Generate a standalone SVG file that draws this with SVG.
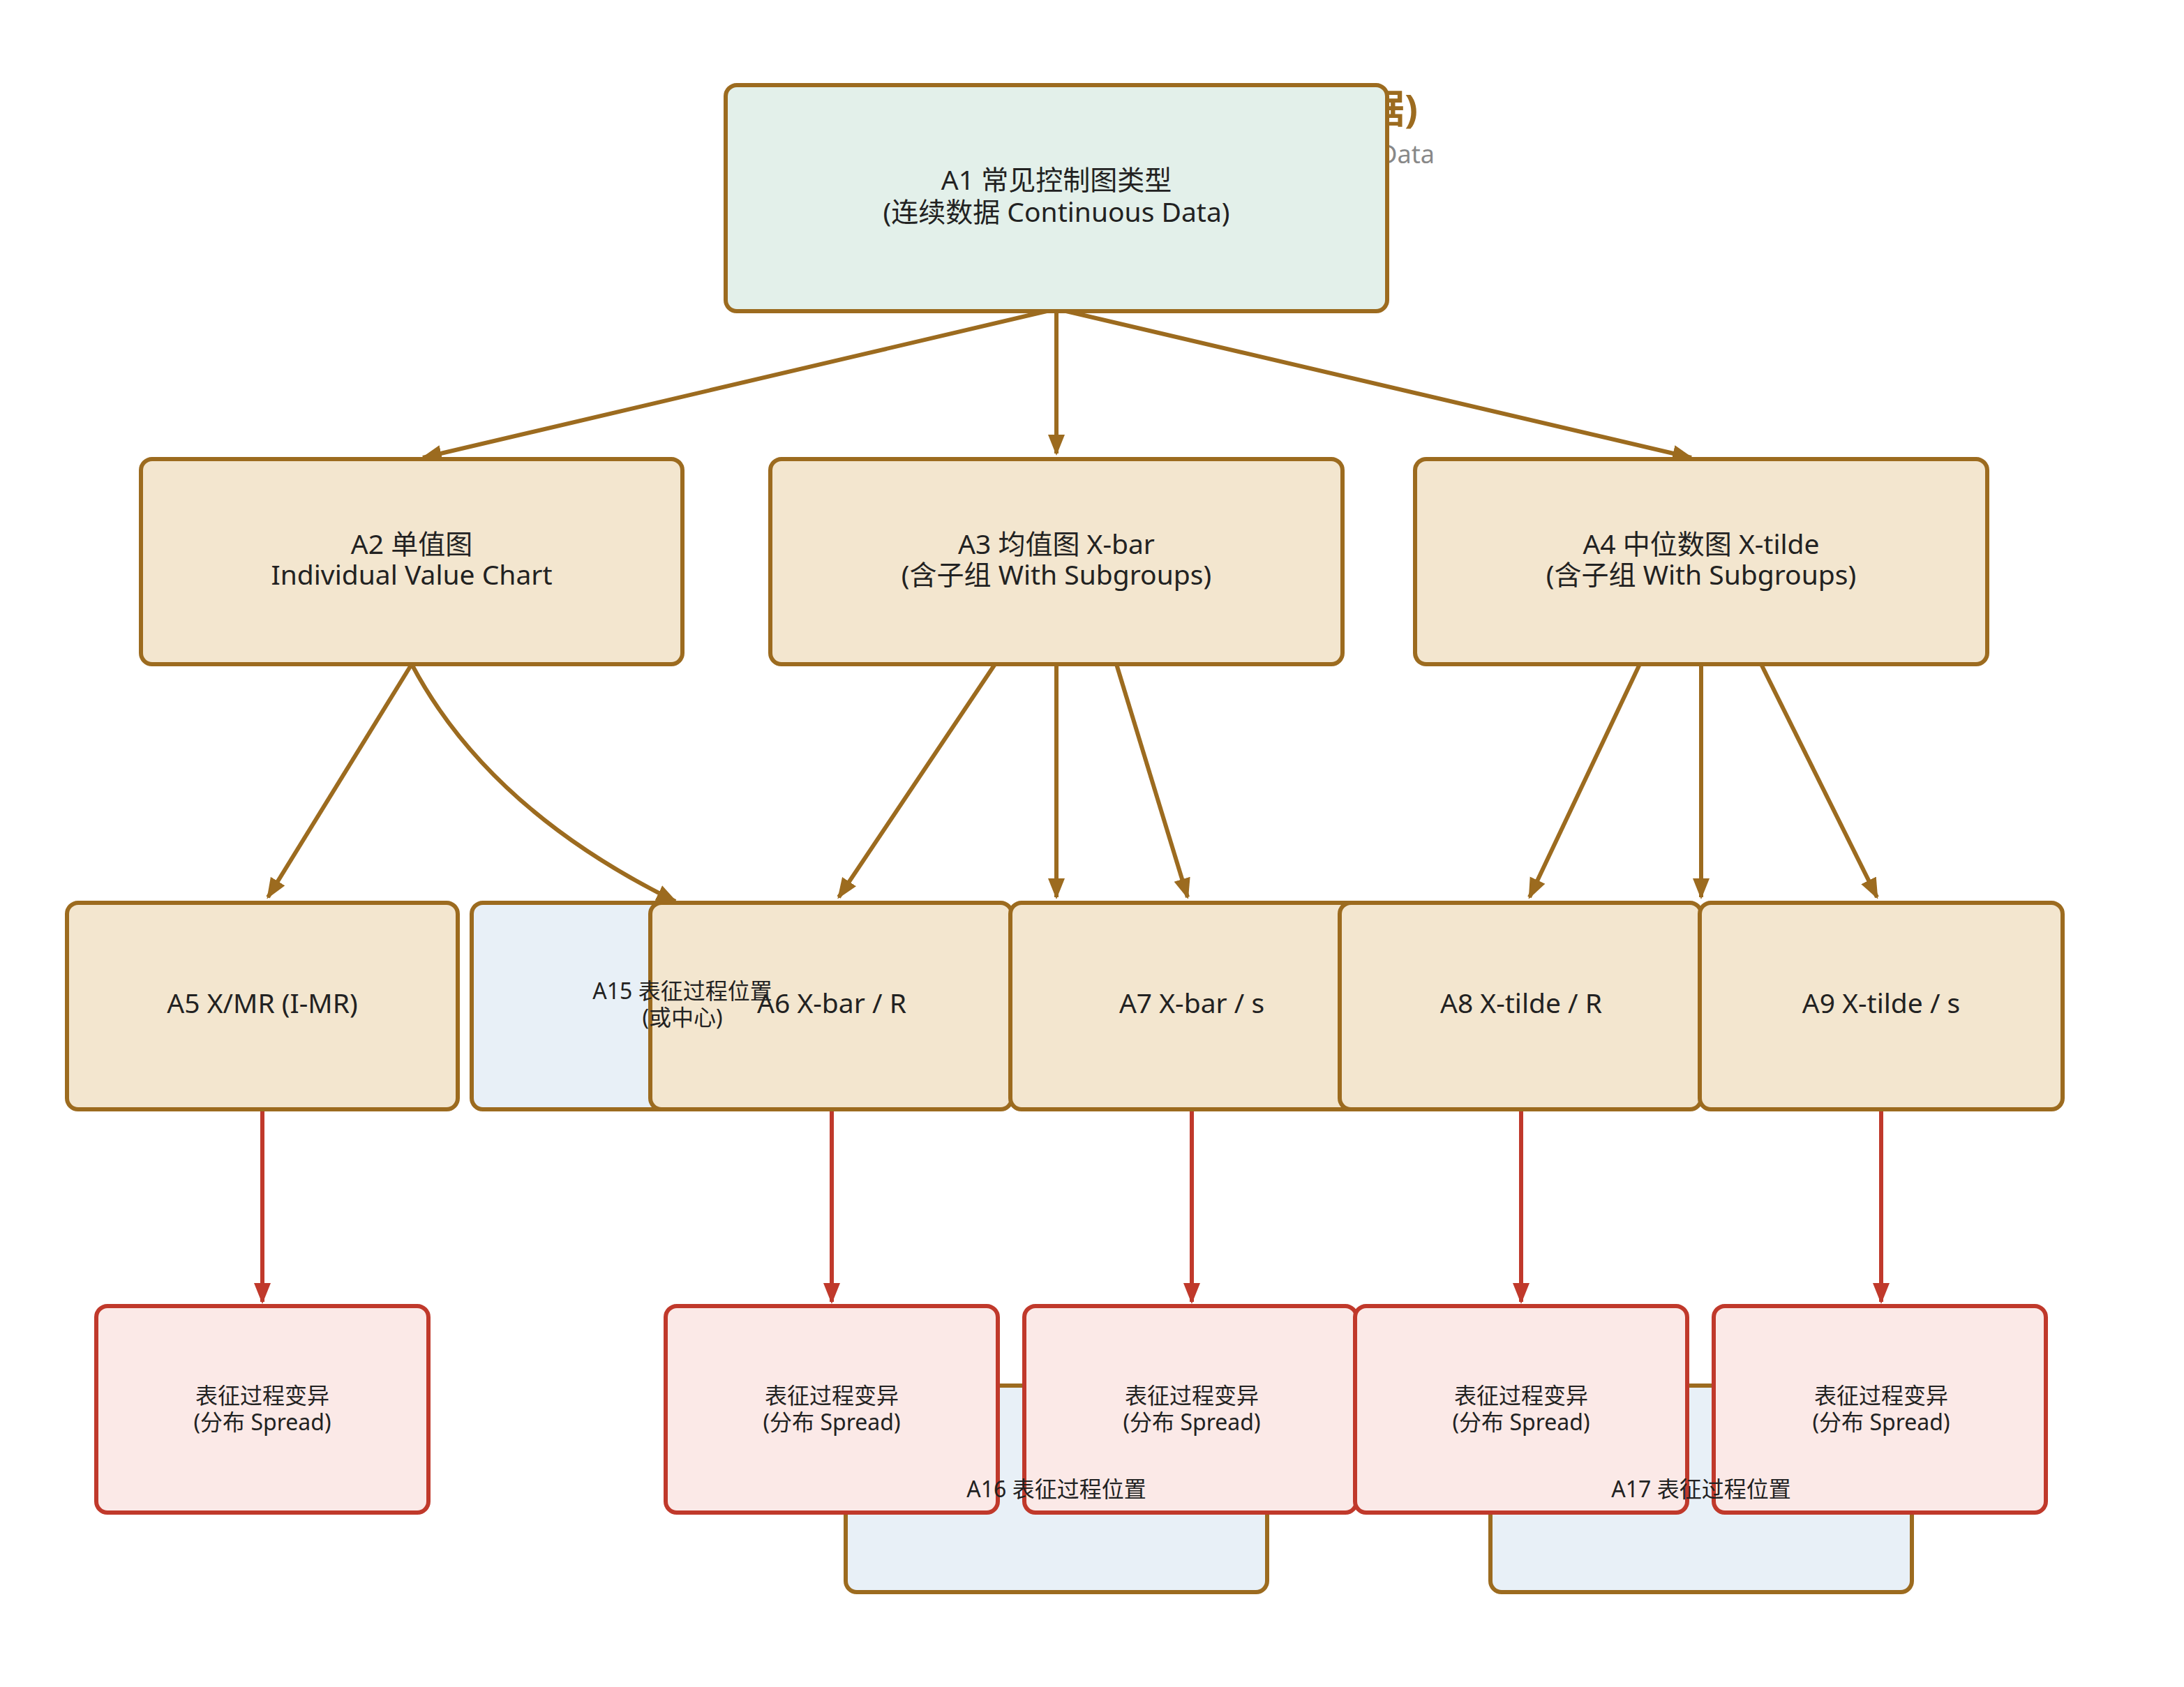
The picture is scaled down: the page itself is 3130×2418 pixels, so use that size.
<svg xmlns="http://www.w3.org/2000/svg" width="3130" height="2418" viewBox="0 0 3130 2418">
<style>
text{font-family:"Noto Sans","Noto Sans CJK SC",sans-serif;fill:#222;text-anchor:middle}
.n{font-size:39px}.s{font-size:32px}
.b{fill:#f3e6cf;stroke:#9c6b1f;stroke-width:6}
.g{fill:#e3f0ea;stroke:#9c6b1f;stroke-width:6}
.u{fill:#e8f0f7;stroke:#9c6b1f;stroke-width:6}
.r{fill:#fbe9e7;stroke:#c0392b;stroke-width:6}
.e{fill:none;stroke:#9c6b1f;stroke-width:6}
.er{fill:none;stroke:#c0392b;stroke-width:6}
</style>
<defs>
<marker id="mb" viewBox="0 0 30 30" refX="27" refY="15" markerWidth="30" markerHeight="30" orient="auto" markerUnits="userSpaceOnUse"><path d="M0,3L30,15L0,27z" fill="#9c6b1f"/></marker>
<marker id="mr" viewBox="0 0 30 30" refX="27" refY="15" markerWidth="30" markerHeight="30" orient="auto" markerUnits="userSpaceOnUse"><path d="M0,3L30,15L0,27z" fill="#c0392b"/></marker>
</defs>
<rect width="3130" height="2418" fill="#fff"/>
<text x="2032" y="176" style="font-size:56px;font-weight:bold;fill:#9c6b1f;text-anchor:end">常见控制图类型 (连续数据)</text>
<text x="2056" y="234" style="font-size:36px;fill:#888;text-anchor:end">Common Control Chart Types for Continuous Data</text>
<g id="A16"><rect class="u" x="1212" y="1986" width="604" height="296" rx="16"/></g>
<g id="A17"><rect class="u" x="2136" y="1986" width="604" height="296" rx="16"/></g>
<g id="connectors">
<path class="e" d="M1500,446L606,656" marker-end="url(#mb)"/>
<path class="e" d="M1514,446L1514,650" marker-end="url(#mb)"/>
<path class="e" d="M1528,446L2424,656" marker-end="url(#mb)"/>
<path class="e" d="M590,952L384,1286" marker-end="url(#mb)"/>
<path class="e" d="M590,952Q700,1160 968,1292" marker-end="url(#mb)"/>
<path class="e" d="M1426,952L1202,1286" marker-end="url(#mb)"/>
<path class="e" d="M1514,952L1514,1286" marker-end="url(#mb)"/>
<path class="e" d="M1600,952L1702,1286" marker-end="url(#mb)"/>
<path class="e" d="M2350,952L2192,1286" marker-end="url(#mb)"/>
<path class="e" d="M2438,952L2438,1286" marker-end="url(#mb)"/>
<path class="e" d="M2524,952L2690,1286" marker-end="url(#mb)"/>
<path class="er" d="M376,1590L376,1866" marker-end="url(#mr)"/>
<path class="er" d="M1192,1590L1192,1866" marker-end="url(#mr)"/>
<path class="er" d="M1708,1590L1708,1866" marker-end="url(#mr)"/>
<path class="er" d="M2180,1590L2180,1866" marker-end="url(#mr)"/>
<path class="er" d="M2696,1590L2696,1866" marker-end="url(#mr)"/>
</g>
<g id="A1"><rect class="g" x="1040" y="122" width="948" height="324" rx="16"/><text class="n" x="1514" y="272">A1 常见控制图类型</text><text class="n" x="1514" y="318">(连续数据 Continuous Data)</text></g>
<g id="A2"><rect class="b" x="202" y="658" width="776" height="294" rx="16"/><text class="n" x="590" y="794">A2 单值图</text><text class="n" x="590" y="838">Individual Value Chart</text></g>
<g id="A3"><rect class="b" x="1104" y="658" width="820" height="294" rx="16"/><text class="n" x="1514" y="794">A3 均值图 X-bar</text><text class="n" x="1514" y="838">(含子组 With Subgroups)</text></g>
<g id="A4"><rect class="b" x="2028" y="658" width="820" height="294" rx="16"/><text class="n" x="2438" y="794">A4 中位数图 X-tilde</text><text class="n" x="2438" y="838">(含子组 With Subgroups)</text></g>
<g id="A5"><rect class="b" x="96" y="1294" width="560" height="296" rx="16"/><text class="n" x="376" y="1452">A5 X/MR (I-MR)</text></g>
<g id="A15"><rect class="u" x="676" y="1294" width="560" height="296" rx="16"/></g>
<g id="A6"><rect class="b" x="932" y="1294" width="518" height="296" rx="16"/><text class="n" x="1192" y="1452">A6 X-bar / R</text></g>
<g id="A15-label"><text class="s" x="978" y="1432">A15 表征过程位置</text><text class="s" x="978" y="1470">(或中心)</text></g>
<g id="A7"><rect class="b" x="1448" y="1294" width="518" height="296" rx="16"/><text class="n" x="1708" y="1452">A7 X-bar / s</text></g>
<g id="A8"><rect class="b" x="1920" y="1294" width="518" height="296" rx="16"/><text class="n" x="2180" y="1452">A8 X-tilde / R</text></g>
<g id="A9"><rect class="b" x="2436" y="1294" width="520" height="296" rx="16"/><text class="n" x="2696" y="1452">A9 X-tilde / s</text></g>
<g id="A10"><rect class="r" x="138" y="1872" width="476" height="296" rx="16"/><text class="s" x="376" y="2012">表征过程变异</text><text class="s" x="376" y="2050">(分布 Spread)</text></g>
<g id="A11"><rect class="r" x="954" y="1872" width="476" height="296" rx="16"/><text class="s" x="1192" y="2012">表征过程变异</text><text class="s" x="1192" y="2050">(分布 Spread)</text></g>
<g id="A12"><rect class="r" x="1468" y="1872" width="476" height="296" rx="16"/><text class="s" x="1708" y="2012">表征过程变异</text><text class="s" x="1708" y="2050">(分布 Spread)</text></g>
<g id="A13"><rect class="r" x="1942" y="1872" width="476" height="296" rx="16"/><text class="s" x="2180" y="2012">表征过程变异</text><text class="s" x="2180" y="2050">(分布 Spread)</text></g>
<g id="A14"><rect class="r" x="2456" y="1872" width="476" height="296" rx="16"/><text class="s" x="2696" y="2012">表征过程变异</text><text class="s" x="2696" y="2050">(分布 Spread)</text></g>
<g id="A16-label"><text class="s" x="1514" y="2146">A16 表征过程位置</text></g>
<g id="A17-label"><text class="s" x="2438" y="2146">A17 表征过程位置</text></g>
</svg>
